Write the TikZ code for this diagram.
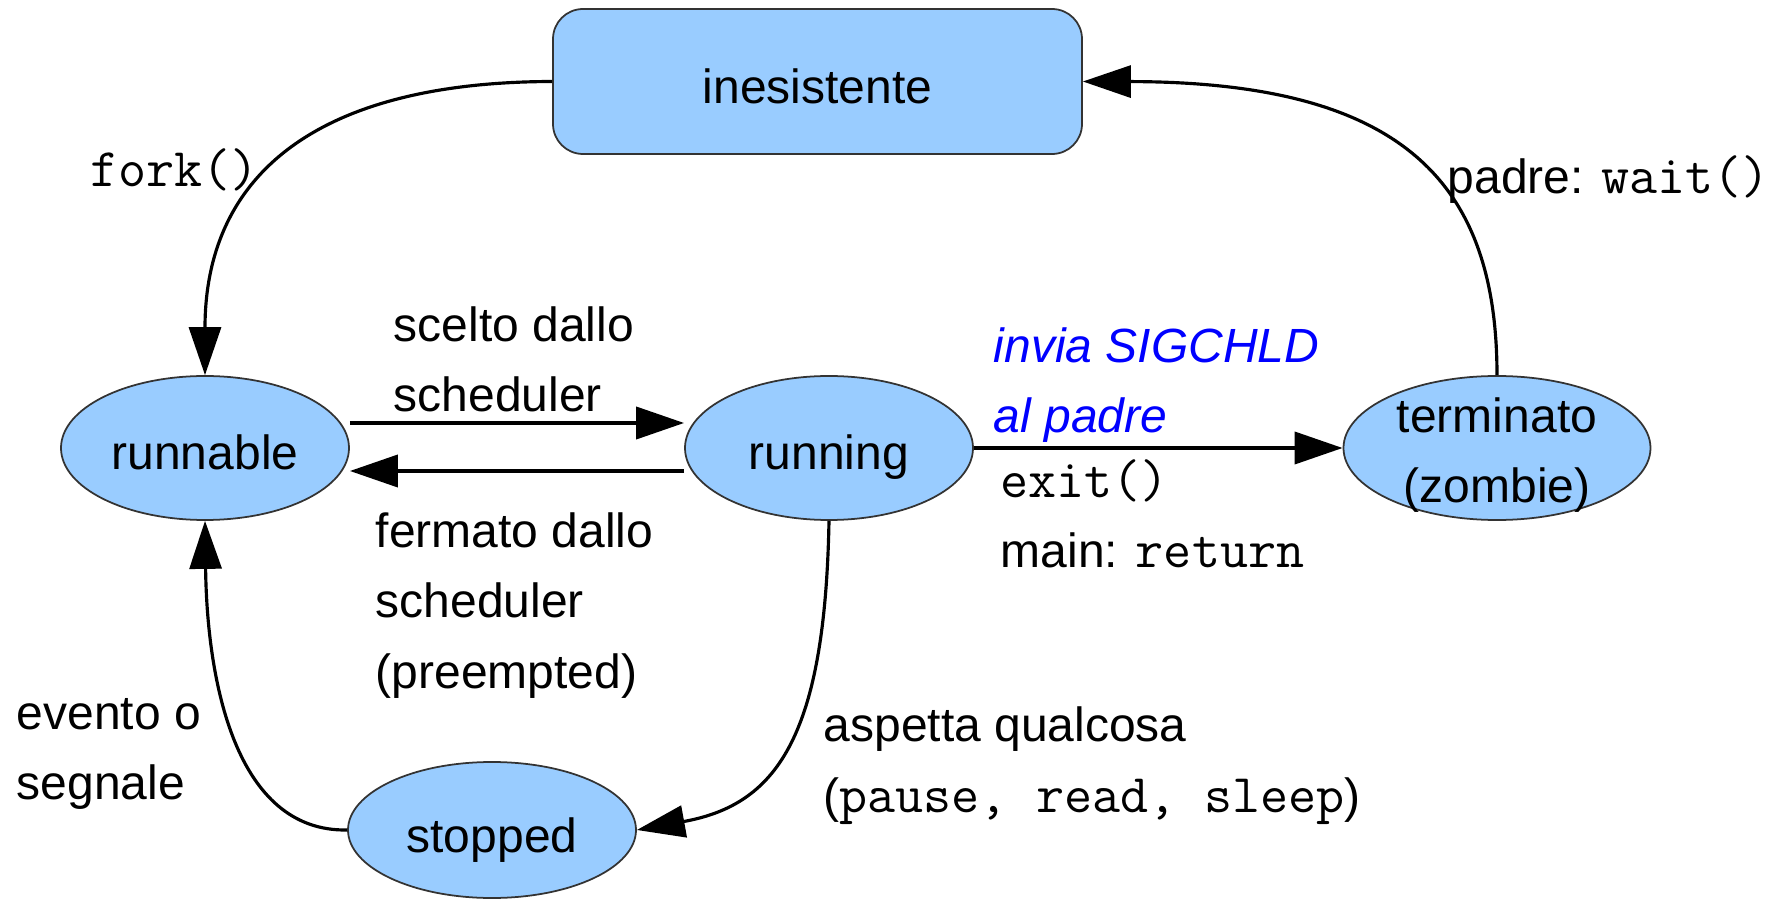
\documentclass[tikz,border=0pt]{standalone}
\usepackage{fontspec}
\setmainfont{Liberation Sans}
\usetikzlibrary{shapes.geometric,arrows.meta}

\definecolor{statefill}{HTML}{99CCFF}
\definecolor{sigblue}{HTML}{0000FF}
\newcommand{\lblfont}{\fontsize{13.66pt}{19.92pt}\selectfont}
\newcommand{\code}[1]{{\ttfamily\fontsize{15.5pt}{19.92pt}\selectfont #1}}

\tikzset{
  state/.style={ellipse,draw=black!80,line width=0.5pt,fill=statefill,
    minimum width=2.88cm,minimum height=1.44cm,inner sep=0pt,
    text height=4.4mm,text depth=0pt},
  trans/.style={line width=1.1pt,-{Triangle[length=4.8mm,width=3.2mm]}},
  curvedarrow/.style={line width=0.9pt,-{Triangle[length=4.8mm,width=3.2mm]}},
  lbl/.style={anchor=base west,inner sep=0pt,align=left}
}

\begin{document}
\begin{tikzpicture}[font=\lblfont]
  \useasboundingbox (0,0) rectangle (17.8,9);

  % States
  \node[draw=black!80,line width=0.5pt,fill=statefill,rounded corners=3mm,
    minimum width=5.29cm,minimum height=1.45cm,inner sep=0pt,
    text height=4.4mm,text depth=0pt] (inesistente) at (8.175,8.185) {inesistente};
  \node[state] (runnable) at (2.05,4.52) {runnable};
  \node[state] (running) at (8.29,4.52) {running};
  \node[state,minimum width=3.07cm,inner ysep=-1mm,text height=11mm,align=center]
    (terminato) at (14.97,4.52) {terminato\\(zombie)};
  \node[state,minimum height=1.36cm] (stopped) at (4.92,0.70) {stopped};

  % Straight transitions
  \draw[trans] ([yshift=2.5mm]runnable.east) -- ([yshift=2.5mm]running.west);
  \draw[trans] ([yshift=-2.3mm]running.west) -- ([yshift=-2.3mm]runnable.east);
  \draw[trans] (running.east) -- (terminato.west);

  % Curved transitions
  \draw[curvedarrow] (inesistente.west) .. controls (3.1,8.18) and (2.05,7.2) .. (runnable.north);
  \draw[curvedarrow] (terminato.north) .. controls (14.97,7.2) and (14.0,8.18) .. (inesistente.east);
  \draw[curvedarrow] (running.south) .. controls (8.25,1.6) and (7.75,0.95) .. (stopped.east);
  \draw[curvedarrow] (stopped.west) .. controls (2.35,0.68) and (2.07,2.2) .. (runnable.south);

  % Labels (base = last line)
  \node[lbl] (lfork) at (0.90,7.13) {\code{fork()}};
  \node[lbl] (lwait) at (14.47,7.06) {padre: \code{wait()}};
  \node[lbl] (lscelto) at (3.93,4.88) {scelto dallo\\scheduler};
  \node[lbl] (lfermato) at (3.75,2.12) {fermato dallo\\scheduler\\(preempted)};
  \node[lbl] (levento) at (0.16,1.00) {evento o\\segnale};
  \node[lbl] (laspetta) at (8.23,0.88) {aspetta qualcosa\\(\code{pause, read, sleep})};
  \node[lbl,text=sigblue,font=\lblfont\itshape] (lsig) at (9.93,4.67) {invia SIGCHLD\\al padre};
  \node[lbl] (lexit) at (10.0,3.32) {\code{exit()}\\main: \code{return}};

\end{tikzpicture}
\end{document}
